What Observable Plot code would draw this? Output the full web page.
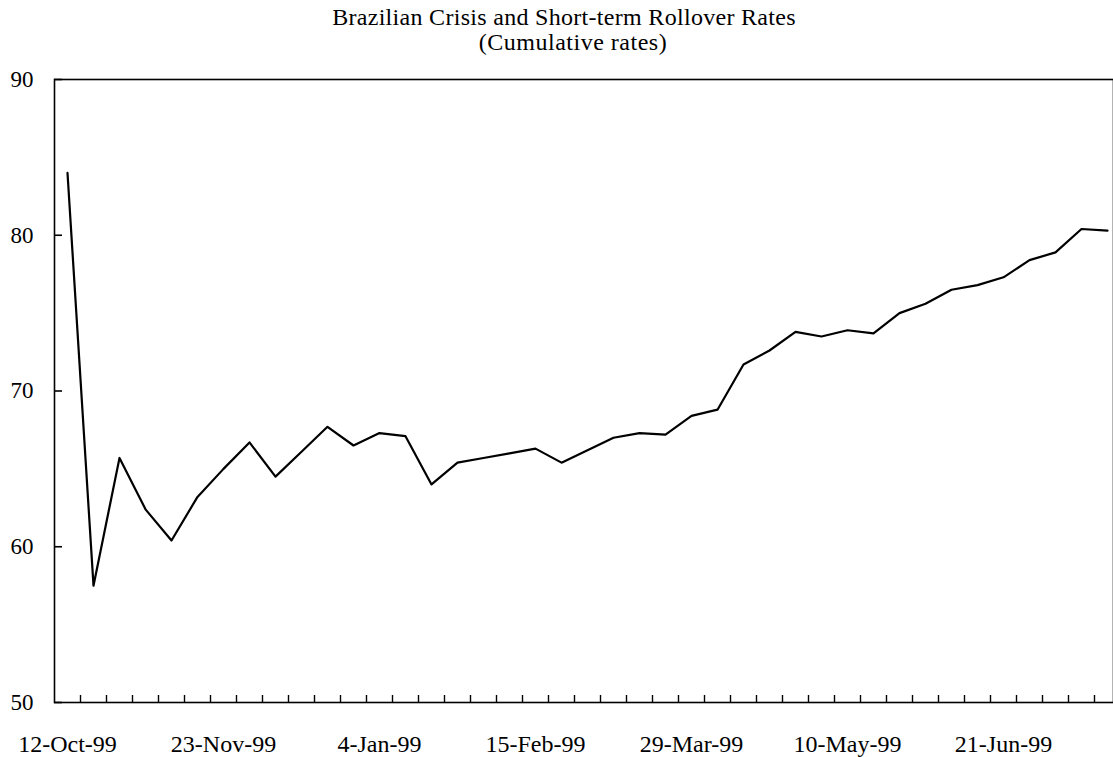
<!DOCTYPE html>
<html><head><meta charset="utf-8">
<script src="https://cdn.jsdelivr.net/npm/d3@7"></script>
<script src="https://cdn.jsdelivr.net/npm/@observablehq/plot@0.6"></script>
<style>
body{margin:0;background:#fff;overflow:hidden;width:1113px;height:757px;font-family:"Liberation Serif","Times New Roman",serif;}
#head{position:relative;height:59px;}
.t{position:absolute;left:0;width:1113px;box-sizing:border-box;text-align:center;font-size:24px;line-height:24px;color:#000;white-space:nowrap;}
</style></head><body>
<div id="head">
<div class="t" style="top:5px;padding-left:15px;letter-spacing:0.3px;">Brazilian Crisis and Short-term Rollover Rates</div>
<div class="t" style="top:30px;padding-left:33px;letter-spacing:0.5px;">(Cumulative rates)</div>
</div>
<div id="chart"></div>
<script>
// weekly cumulative rollover rates (%), one value per week starting 12-Oct-99
const rates = [84.0, 57.5, 65.7, 62.4, 60.4, 63.2, 65.0, 66.7, 64.5, 66.1,
  67.7, 66.5, 67.3, 67.1, 64.0, 65.4, 65.7, 66.0, 66.3, 65.4,
  66.2, 67.0, 67.3, 67.2, 68.4, 68.8, 71.7, 72.6, 73.8, 73.5,
  73.9, 73.7, 75.0, 75.6, 76.5, 76.8, 77.3, 78.4, 78.9, 80.4, 80.3];
const labelWeeks = [0, 6, 12, 18, 24, 30, 36];
const labelText = ["12-Oct-99", "23-Nov-99", "4-Jan-99", "15-Feb-99", "29-Mar-99", "10-May-99", "21-Jun-99"];
const yTicks = [50, 60, 70, 80, 90];

const data = rates.map((v, i) => ({week: i, rate: v}));
const weekTicks = d3.range(0.5, rates.length - 1, 1);
const font = '"Liberation Serif","Times New Roman",serif';

const chart = Plot.plot({
  width: 1113, height: 698,
  marginTop: 20, marginBottom: 55, marginLeft: 54, marginRight: 0,
  style: {fontFamily: font, fontSize: "24px", color: "#000", background: "#fff", overflow: "visible"},
  x: {domain: [-0.5, rates.length - 0.5], range: [54, 1120], label: null},
  y: {domain: [50, 90], label: null},
  marks: [
    Plot.frame({stroke: "#000", strokeWidth: 1.6}),
    Plot.axisY(yTicks, {tickSize: -8, text: null, strokeWidth: 1.6, label: null}),
    Plot.axisY(yTicks, {tickSize: 0, tickPadding: 21, fontSize: 23, label: null}),
    Plot.axisX(weekTicks, {tickSize: -7, text: null, strokeWidth: 1.4, label: null}),
    Plot.axisX(labelWeeks, {tickSize: 0, tickPadding: 32, label: null,
      tickFormat: d => labelText[labelWeeks.indexOf(d)]}),
    Plot.line(data, {x: "week", y: "rate", stroke: "#000", strokeWidth: 2.2})
  ]
});
document.getElementById("chart").appendChild(chart);
</script>
</body></html>
